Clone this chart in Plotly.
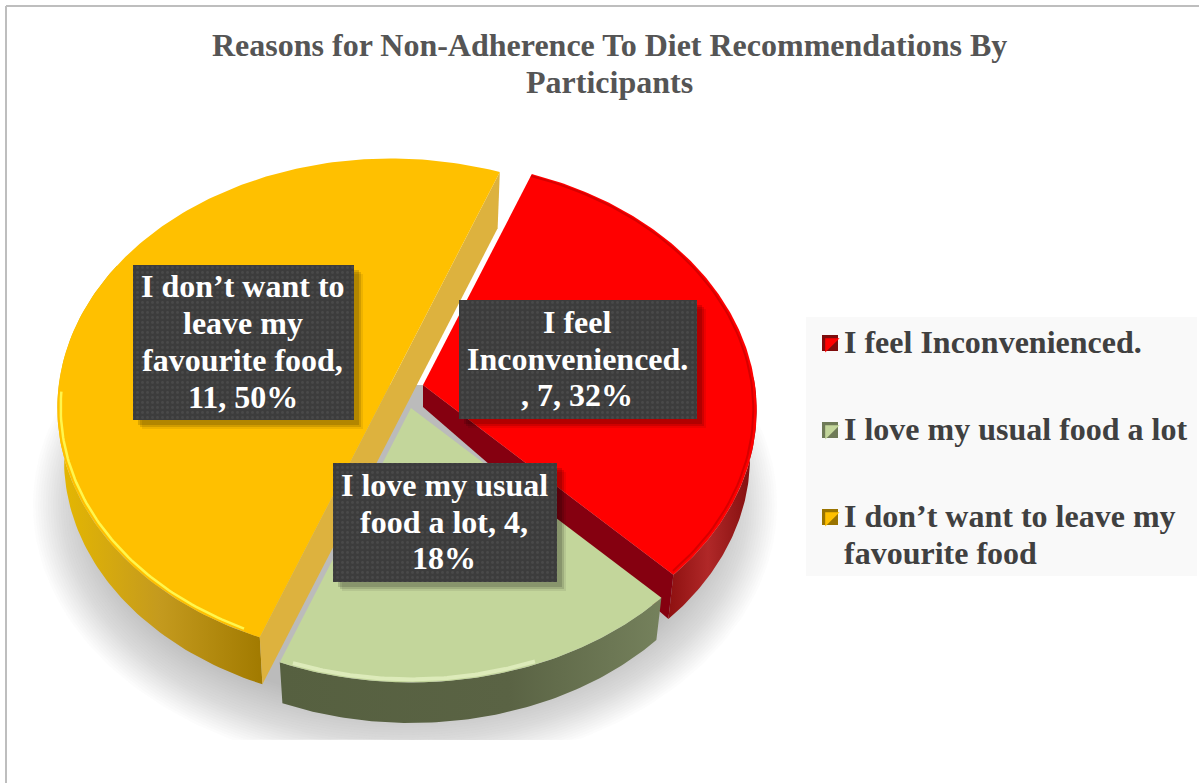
import numpy as np
import plotly.graph_objects as go

# Survey responses
reasons = ["I feel Inconvenienced.", "I love my usual food a lot", "I don’t want to leave my favourite food"]
counts = [7, 4, 11]
label_lines = [
    ["I feel", "Inconvenienced.", ", {n}, {p}%"],
    ["I love my usual", "food a lot, {n},", "{p}%"],
    ["I don’t want to", "leave my", "favourite food,", "{n}, {p}%"],
]
legend_lines = [["I feel Inconvenienced."], ["I love my usual food a lot"], ["I don’t want to leave my", "favourite food"]]
title_lines = ["Reasons for Non-Adherence To Diet Recommendations By", "Participants"]

# Colours per slice
top_colors = ["#FF0000", "#C3D69B", "#FFC000"]
face_colors = ["#850010", None, "#DDB23E"]
rim_scales = [
    [[0, "#8E1010"], [0.45, "#B02828"], [1, "#7E0C0C"]],
    [[0, "#566040"], [0.6, "#5A6344"], [1, "#75815C"]],
    [[0, "#E6B800"], [0.5, "#C49A1E"], [1, "#A17A00"]],
]
rim_spans = [(88, None), (None, None), (None, 300)]
rim_lines = ["rgba(140,0,0,0.35)", "rgba(232,244,200,0.7)", "rgba(255,255,90,0.85)"]
line_spans = [(21, 135), (160, 199), (204, 268)]
line_widths = [2, 4, 2.5]

# Projection of the tilted disc
ROTATION = 21
RX, RY, PERSPECTIVE = 332, 247, 0.1
apexes = [(423, 385), (411, 408), (391, 383)]
apex_depth = [22, 25, 50]
rim_depth = [48, 46, 52]
boxes = [(459, 300, 697, 419), (333, 463, 557, 582), (133, 265, 354, 420)]
FONT = "Liberation Serif"
TEXT_SIZE = 32
LINE_GAP = 36.8


def project(i, deg, r=1.0):
    a = np.radians(deg)
    w = 1 + PERSPECTIVE * r * np.cos(a)
    return apexes[i][0] + r * RX * np.sin(a) / w, apexes[i][1] - r * RY * np.cos(a) / w


def lower(i, x, y, r=1.0):
    ax, ay = apexes[i]
    return ax + 0.98 * (x - ax), ay + 0.98 * (y - ay) + apex_depth[i] + (rim_depth[i] - apex_depth[i]) * r


def area(fig, x, y, **kw):
    fig.add_trace(go.Scatter(x=x, y=y, mode="lines", fill="toself", line=dict(width=0),
                             hoverinfo="skip", showlegend=False, **kw))


def caption(x, y, text, anchor, color):
    return dict(x=x, y=y, xref="x", yref="y", showarrow=False, xanchor=anchor, yanchor="middle",
                text=f"<b>{text}</b>", font=dict(family=FONT, size=TEXT_SIZE, color=color))


fig = go.Figure()

# Soft floor shadow built from nested translucent ellipses
theta = np.linspace(0, 2 * np.pi, 240)
for step in range(28):
    inset = step * 2.5
    sx = 405 + (372 - inset) * np.cos(theta)
    sy = 505 + (265 - inset) * np.sin(theta)
    area(fig, sx, np.clip(sy, 385, 740), fillcolor="rgba(150,150,156,0.028)")

total = sum(counts)
start = ROTATION
for i, n in enumerate(counts):
    end = start + 360 * n / total
    # outer wall
    lo, hi = rim_spans[i]
    lo = start if lo is None else lo
    hi = end if hi is None else hi
    deg = np.linspace(lo, hi, 90)
    tx, ty = project(i, deg)
    bx, by = lower(i, tx, ty)
    area(fig, np.r_[tx, bx[::-1]], np.r_[ty, by[::-1]],
         fillgradient=dict(type="horizontal", colorscale=rim_scales[i]))
    # exposed cut face
    if face_colors[i]:
        x0, y0 = project(i, start)
        x1, y1 = project(i, end)
        ax, ay = apexes[i]
        if i == 0:
            lx1, ly1 = lower(i, x1, y1)
            lax, lay = lower(i, ax, ay, 0)
            px, py = [ax, x1, lx1, lax], [ay, y1, ly1, lay]
        else:
            bx0, by0 = lower(i, x0, y0)
            bx1, by1 = lower(i, x1, y1)
            px, py = [x0, x1, bx1, bx0], [y0, y1, by1, by0]
        area(fig, px, py, fillcolor=face_colors[i])
    # top surface
    deg = np.linspace(start, end, 180)
    tx, ty = project(i, deg)
    area(fig, np.r_[apexes[i][0], tx], np.r_[apexes[i][1], ty], fillcolor=top_colors[i])
    # bevel along the rim
    deg = np.linspace(*line_spans[i], 80)
    lx, ly = project(i, deg, 0.99)
    fig.add_trace(go.Scatter(x=lx, y=ly, mode="lines", hoverinfo="skip", showlegend=False,
                             line=dict(color=rim_lines[i], width=line_widths[i])))
    start = end

# Data label plates with a drop shadow and a fine dotted texture
annotations = []
for i, n in enumerate(counts):
    x0, y0, x1, y1 = boxes[i]
    for off, alpha in ((9, 0.07), (7, 0.12), (5, 0.14)):
        area(fig, [x0 + off, x1 + off, x1 + off, x0 + off], [y0 + off, y0 + off, y1 + off, y1 + off],
             fillcolor=f"rgba(0,0,0,{alpha})")
    area(fig, [x0, x1, x1, x0], [y0, y0, y1, y1], fillcolor="#3E3E3E",
         fillpattern=dict(shape=".", bgcolor="#3C3C3C", fgcolor="#555555", size=5, solidity=0.25))
    pct = round(100 * n / total)
    mid = (y0 + y1) / 2 - 1
    rows = label_lines[i]
    for k, row in enumerate(rows):
        y = mid + (k - (len(rows) - 1) / 2) * LINE_GAP
        annotations.append(caption((x0 + x1) / 2 - 1, y, row.format(n=n, p=pct), "center", "white"))

# Legend panel, keys and captions
area(fig, [806, 1197, 1197, 806], [317, 317, 576, 576], fillcolor="#F9F9F9")
legend_y = [342, 429, 516]
key_stops = [("#FF0000", "#7E0C0C"), ("#C3D69B", "#6F7B58"), ("#FFC000", "#9A7400")]
for i, ly in enumerate(legend_y):
    fig.add_trace(go.Scatter(x=[830], y=[ly + 1], mode="markers", hoverinfo="skip", showlegend=False,
                             marker=dict(symbol="square", size=16, color=key_stops[i][1], line=dict(width=0))))
    fig.add_trace(go.Scatter(x=[830], y=[ly + 1], mode="markers", hoverinfo="skip", showlegend=False,
                             marker=dict(symbol="triangle-nw", size=16, color=key_stops[i][0], line=dict(width=0))))
    for k, row in enumerate(legend_lines[i]):
        annotations.append(caption(842, ly + k * LINE_GAP, row, "left", "#404040"))

for k, row in enumerate(title_lines):
    annotations.append(caption(609, 45 + k * LINE_GAP, row, "center", "#555555"))

frame = dict(type="line", xref="x", yref="y", line=dict(color="#BEBEBE", width=2))
fig.update_layout(
    width=1199, height=783, autosize=False, margin=dict(l=0, r=0, t=0, b=0),
    paper_bgcolor="white", plot_bgcolor="white", showlegend=False,
    xaxis=dict(range=[0, 1199], visible=False, fixedrange=True),
    yaxis=dict(range=[783, 0], visible=False, fixedrange=True),
    annotations=annotations,
    shapes=[dict(frame, x0=6, x1=1199, y0=6, y1=6), dict(frame, x0=6, x1=6, y0=6, y1=783)],
)
fig.write_html("out.html", config=dict(displayModeBar=False))
